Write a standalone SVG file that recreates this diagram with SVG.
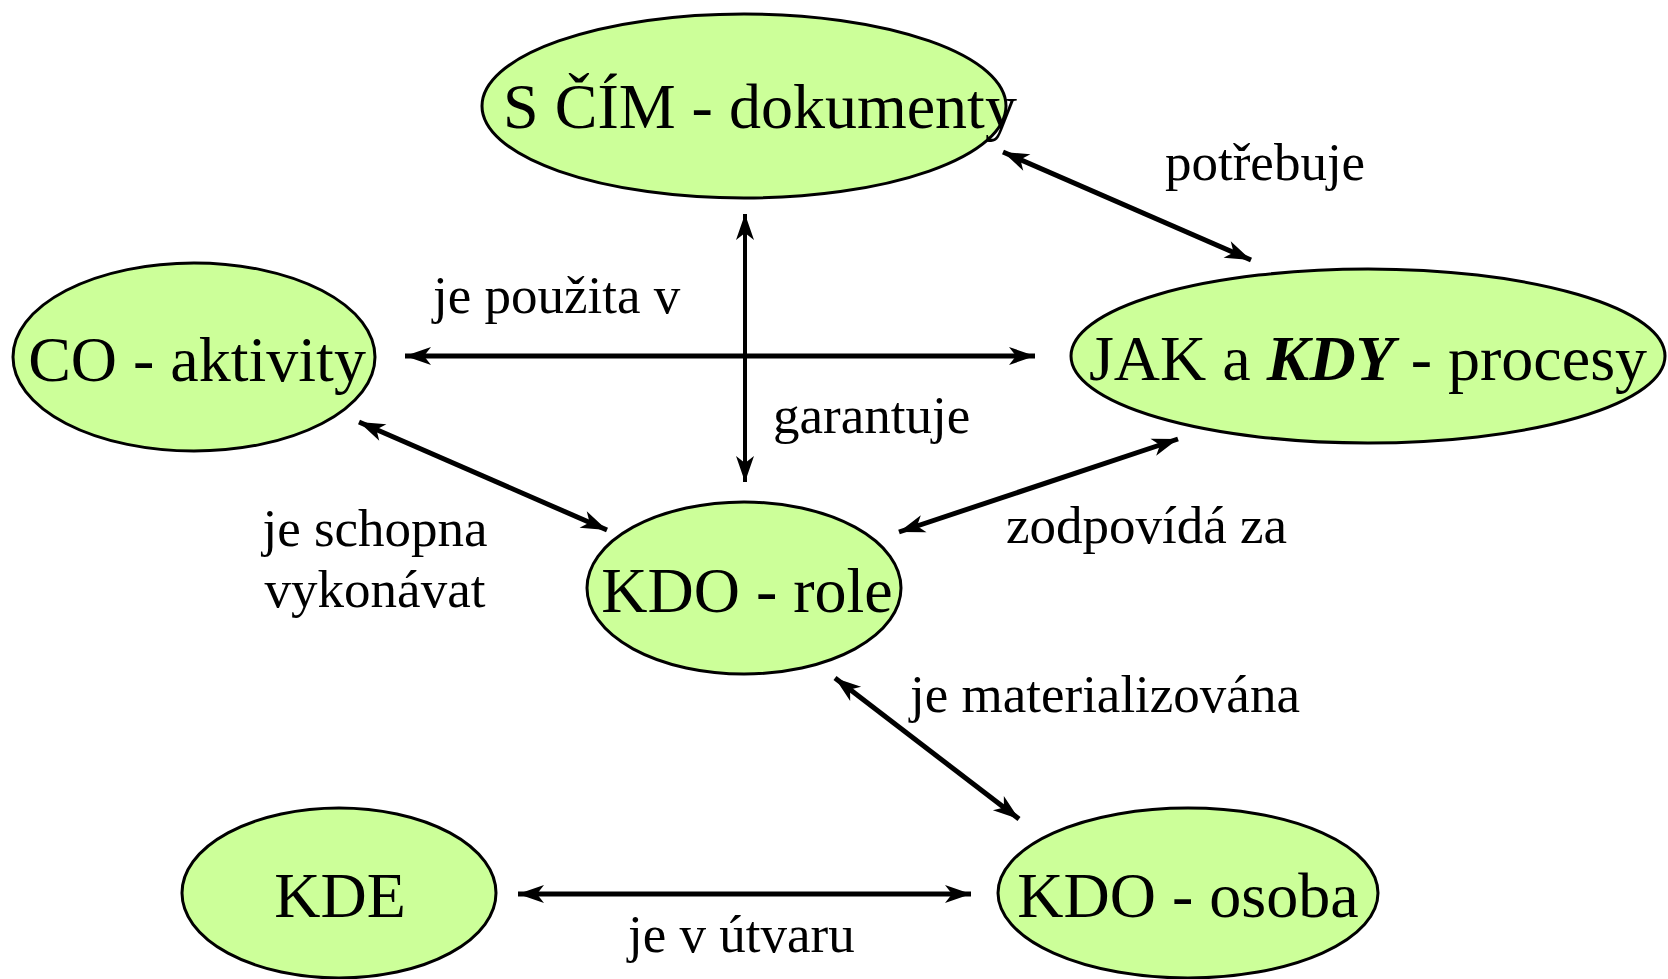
<svg xmlns="http://www.w3.org/2000/svg" width="1668" height="979" viewBox="0 0 1668 979">
<style>
.node ellipse{fill:#ccff99;stroke:#000;stroke-width:3}
.nt{font-family:"Liberation Serif","Times New Roman",serif;font-size:64px;fill:#000;text-anchor:middle}
.lbl{font-family:"Liberation Serif","Times New Roman",serif;font-size:53px;fill:#000}
.conn line{stroke:#000;stroke-width:5;marker-start:url(#ah);marker-end:url(#ah)}
</style>
<defs>
<marker id="ah" markerUnits="userSpaceOnUse" viewBox="-28 -11 30 22" refX="0" refY="0" markerWidth="30" markerHeight="22" orient="auto-start-reverse">
<path d="M0,0 L-26,-9 L-19,0 L-26,9 Z" fill="#000"/>
</marker>
</defs>
<rect width="1668" height="979" fill="#fff"/>
<g id="connectors" class="conn">
<line x1="1003" y1="152" x2="1251" y2="260"/>
<line x1="405" y1="356" x2="1035" y2="356"/>
<line x1="745" y1="214" x2="745" y2="482" style="stroke-width:4"/>
<line x1="359" y1="422" x2="607" y2="530"/>
<line x1="1178" y1="439" x2="899" y2="532"/>
<line x1="835" y1="678" x2="1019" y2="819"/>
<line x1="518" y1="894" x2="971" y2="894"/>
</g>
<g id="n_scim" class="node"><ellipse cx="744" cy="106" rx="262" ry="92"/><text class="nt" x="760" y="128">S ČÍM - dokumenty</text></g>
<g id="n_co" class="node"><ellipse cx="194" cy="357" rx="181" ry="94"/><text class="nt" x="197" y="381">CO - aktivity</text></g>
<g id="n_jak" class="node"><ellipse cx="1368" cy="356" rx="297" ry="87"/><text class="nt" x="1368" y="380">JAK a <tspan font-weight="bold" font-style="italic">KDY</tspan> - procesy</text></g>
<g id="n_role" class="node"><ellipse cx="744" cy="588" rx="157" ry="86"/><text class="nt" x="747" y="612">KDO - role</text></g>
<g id="n_kde" class="node"><ellipse cx="339" cy="893" rx="157" ry="85"/><text class="nt" x="340" y="917">KDE</text></g>
<g id="n_osoba" class="node"><ellipse cx="1188" cy="893" rx="190" ry="85"/><text class="nt" x="1188" y="917">KDO - osoba</text></g>
<g id="labels">
<text class="lbl" x="1165" y="180">potřebuje</text>
<text class="lbl" x="433" y="313">je použita v</text>
<text class="lbl" x="773" y="433">garantuje</text>
<text class="lbl" x="375" y="546" text-anchor="middle">je schopna</text>
<text class="lbl" x="375" y="607" text-anchor="middle">vykonávat</text>
<text class="lbl" x="1006" y="543">zodpovídá za</text>
<text class="lbl" x="910" y="712">je materializována</text>
<text class="lbl" x="628" y="952">je v útvaru</text>
</g>
</svg>
